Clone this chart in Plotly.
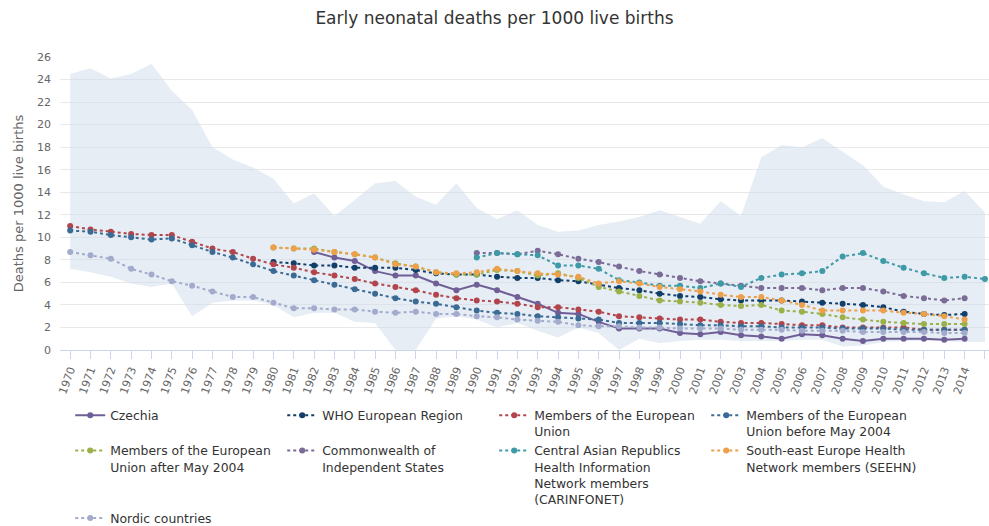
import plotly.graph_objects as go

years = list(range(1970, 2016))

band_upper = [24.5, 25.0, 24.1, 24.5, 25.4, 23.0, 21.3, 18.0, 16.9, 16.2,
              15.2, 13.0, 13.9, 11.9, 13.3, 14.8, 15.0, 13.6, 12.9, 14.8,
              12.6, 11.6, 12.4, 11.1, 10.5, 10.6, 11.1, 11.4, 11.8, 12.4,
              11.8, 11.2, 13.2, 11.9, 17.1, 18.2, 18.0, 18.8, 17.6, 16.4,
              14.5, 13.8, 13.2, 13.1, 14.1, 12.2]
band_lower = [7.2, 6.9, 6.5, 5.9, 5.6, 5.9, 3.0, 4.2, 4.4, 4.4,
              4.0, 2.9, 3.3, 3.3, 2.5, 2.4, 0.0, 0.0, 2.8, 3.0,
              2.7, 2.0, 2.4, 1.7, 1.1, 2.0, 1.5, 0.0, 1.0, 0.6,
              0.8, 0.9, 0.9, 0.8, 0.8, 0.8, 0.9, 0.9, 0.3, 0.4,
              0.7, 0.8, 0.8, 0.8, 0.7, 0.7]

N = None
czechia = [N]*12 + [8.7, 8.2, 7.9, 7.0, 6.6, 6.6, 5.9, 5.3, 5.8, 5.3,
                    4.7, 4.1, 3.3, 3.2, 2.5, 1.9, 1.9, 1.9, 1.5, 1.4,
                    1.6, 1.3, 1.2, 1.0, 1.4, 1.3, 1.0, 0.8, 1.0, 1.0,
                    1.0, 0.9, 1.0, N]
who_europe = [N]*10 + [7.8, 7.7, 7.5, 7.5, 7.3, 7.3, 7.3, 7.1, 6.8, 6.7,
                       6.7, 6.5, 6.4, 6.4, 6.2, 6.1, 5.8, 5.5, 5.3, 5.0,
                       4.8, 4.7, 4.5, 4.4, 4.4, 4.4, 4.3, 4.2, 4.1, 4.0,
                       3.8, 3.4, 3.2, 3.1, 3.2, N]
eu = [11.0, 10.7, 10.5, 10.3, 10.2, 10.2, 9.6, 9.0, 8.7, 8.1,
      7.6, 7.3, 6.9, 6.6, 6.3, 5.9, 5.6, 5.3, 4.9, 4.6,
      4.4, 4.3, 4.1, 3.8, 3.8, 3.6, 3.4, 3.0, 2.9, 2.8,
      2.7, 2.7, 2.5, 2.4, 2.4, 2.3, 2.2, 2.2, 2.0, 2.0,
      2.0, 2.0, 1.8, 1.8, 1.8, N]
eu_before = [10.6, 10.5, 10.2, 10.0, 9.8, 9.9, 9.3, 8.7, 8.2, 7.6,
             7.0, 6.6, 6.2, 5.8, 5.4, 5.0, 4.6, 4.3, 4.1, 3.8,
             3.5, 3.3, 3.2, 3.0, 2.9, 2.8, 2.7, 2.4, 2.4, 2.4,
             2.3, 2.2, 2.2, 2.1, 2.1, 2.0, 2.0, 2.0, 1.9, 1.9,
             1.9, 1.8, 1.8, 1.8, 1.8, N]
eu_after = [N]*10 + [9.1, 9.0, 9.0, 8.7, 8.5, 8.2, 7.7, 7.4, 6.9, 6.7,
                     6.7, 7.1, 7.0, 6.6, 6.8, 6.4, 5.6, 5.2, 4.8, 4.4,
                     4.3, 4.2, 4.0, 3.9, 4.0, 3.5, 3.4, 3.2, 2.9, 2.7,
                     2.5, 2.4, 2.3, 2.3, 2.3, N]
cis = [N]*20 + [8.6, 8.6, 8.5, 8.8, 8.5, 8.1, 7.8, 7.4, 7.0, 6.7,
                6.4, 6.1, 5.9, 5.7, 5.5, 5.5, 5.5, 5.3, 5.5, 5.5,
                5.2, 4.8, 4.6, 4.4, 4.6, N]
carinfonet = [N]*20 + [8.2, 8.6, 8.5, 8.4, 7.5, 7.5, 7.2, 6.2, 6.0, 5.7,
                       5.7, 5.5, 5.9, 5.6, 6.4, 6.7, 6.8, 7.0, 8.3, 8.6,
                       7.9, 7.3, 6.8, 6.4, 6.5, 6.3]
seehn = [N]*10 + [9.1, 9.0, 8.9, 8.7, 8.5, 8.2, 7.6, 7.4, 6.9, 6.8,
                  6.9, 7.2, 7.0, 6.8, 6.7, 6.5, 5.9, 6.1, 5.9, 5.6,
                  5.4, 5.2, 4.9, 4.7, 4.7, 4.4, 4.0, 3.5, 3.5, 3.5,
                  3.5, 3.3, 3.2, 3.0, 2.7, N]
nordic = [8.7, 8.4, 8.1, 7.2, 6.7, 6.1, 5.7, 5.2, 4.7, 4.7,
          4.2, 3.7, 3.7, 3.6, 3.6, 3.4, 3.3, 3.4, 3.2, 3.2,
          3.0, 2.9, 2.7, 2.6, 2.5, 2.2, 2.1, 2.1, 2.0, 2.0,
          1.9, 1.9, 1.9, 1.8, 1.8, 1.8, 1.7, 1.7, 1.7, 1.6,
          1.6, 1.6, 1.6, 1.5, 1.5, N]

series = [
    ("Czechia", czechia, "#6f5f96", "solid"),
    ("WHO European Region", who_europe, "#123f6a", "dot"),
    ("Members of the European<br>Union", eu, "#b2454c", "dot"),
    ("Members of the European<br>Union before May 2004", eu_before, "#3b6b94", "dot"),
    ("Members of the European<br>Union after May 2004", eu_after, "#9cb04a", "dot"),
    ("Commonwealth of<br>Independent States", cis, "#7a6c96", "dot"),
    ("Central Asian Republics<br>Health Information<br>Network members<br>(CARINFONET)", carinfonet, "#3d9aa6", "dot"),
    ("South-east Europe Health<br>Network members (SEEHN)", seehn, "#eda04a", "dot"),
    ("Nordic countries", nordic, "#a3abcc", "dot"),
]

fig = go.Figure()
fig.add_trace(go.Scatter(x=years, y=band_lower, mode="lines", line=dict(width=0),
                         showlegend=False, hoverinfo="skip"))
fig.add_trace(go.Scatter(x=years, y=band_upper, mode="lines", line=dict(width=0),
                         fill="tonexty", fillcolor="rgba(205,219,235,0.5)",
                         showlegend=False, hoverinfo="skip"))

for name, vals, color, dash in series:
    fig.add_trace(go.Scatter(x=years, y=vals, name=name, mode="lines+markers",
                             line=dict(color=color, width=2, dash=dash),
                             marker=dict(color=color, size=6),
                             connectgaps=False))

font_family = "DejaVu Sans"
fig.update_layout(
    width=989, height=526,
    paper_bgcolor="white", plot_bgcolor="white",
    font=dict(family=font_family, color="#333333"),
    title=dict(text="Early neonatal deaths per 1000 live births",
               x=0.5, xanchor="center", y=0.965, yanchor="middle",
               font=dict(size=17, color="#333333", family=font_family)),
    margin=dict(l=60, r=0, t=57, b=176),
    xaxis=dict(range=[1969.5, 2015.2], tickmode="array", tickvals=years,
               ticktext=[str(y) for y in years], tickangle=-70,
               tickfont=dict(size=11, color="#666666"),
               showgrid=False, zeroline=False, showline=True,
               linecolor="#ccd6eb", linewidth=1, ticks="outside",
               ticklen=8, tickcolor="#ccd6eb"),
    yaxis=dict(range=[0, 26], dtick=2, tickfont=dict(size=11, color="#666666"),
               gridcolor="#e8e8e8", zeroline=False, ticklabelstandoff=8,
               title=dict(text="Deaths per 1000 live births", standoff=10,
                          font=dict(size=13, color="#666666"))),
    legend=dict(orientation="h", xref="container", yref="container",
                x=0.071, xanchor="left", y=0.238, yanchor="top",
                entrywidth=167, entrywidthmode="pixels",
                traceorder="normal",
                font=dict(size=12.4, color="#333333", family=font_family),
                valign="top", tracegroupgap=0, itemwidth=30),
)

fig.write_html("out.html")
